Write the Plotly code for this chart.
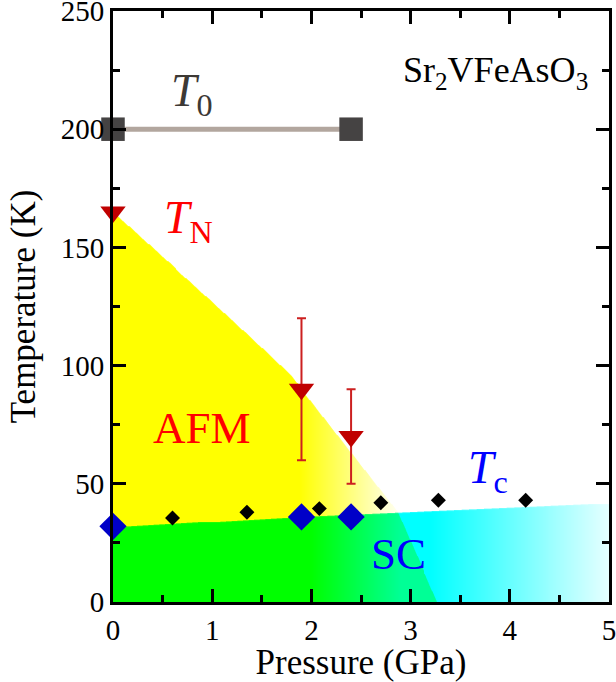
import numpy as np
import plotly.graph_objects as go

# ---------------- data ----------------
# T0 (structural / other transition)
t0_p = [0.0, 2.4]
t0_t = [200, 200]

# TN (antiferromagnetic ordering) with error bars
tn_p = [0.0, 1.9, 2.4]
tn_t = [165, 90, 70]
tn_err = [0, 30, 20]

# Tc (superconducting, large blue diamonds)
tc_p = [0.0, 1.9, 2.4]
tc_t = [32, 36, 36]

# Tc onset (small black diamonds)
tco_p = [0.6, 1.35, 2.08, 2.7, 3.28, 4.16]
tco_t = [35.5, 38, 39.5, 42, 43, 43]

# phase boundaries used for shaded regions
afm_bound_p = [0.0, 1.0, 1.5, 1.8, 2.87, 3.27]
afm_bound_t = [165, 127, 107.5, 95.5, 38.0, 0.0]
sc_bound_p = [0.0, 1.9, 5.0]
sc_bound_t = [31.5, 36.0, 41.5]

x_ticks = [0, 1, 2, 3, 4, 5]
y_ticks = [0, 50, 100, 150, 200, 250]

FONT = "Liberation Serif, Times New Roman, Times, serif"

# ---------------- shaded phase regions (image) ----------------
nx, ny = 500, 425
dx, dy = 5.0 / nx, 170.0 / ny
ss = 3
px = (np.arange(nx * ss) + 0.5) * dx / ss
ty = (np.arange(ny * ss) + 0.5) * dy / ss
P, T = np.meshgrid(px, ty)

afm_top = np.where(P <= afm_bound_p[-1], np.interp(P, afm_bound_p, afm_bound_t), -1)
sc_top = np.interp(P, sc_bound_p, sc_bound_t)
in_afm = T < afm_top
in_sc = T < sc_top

a = np.clip(1 - (P - 1.88) / 1.05, 0, 1)      # yellow fade
b = np.clip(1 - (P - 3.2) / 2.0, 0, 1)        # cyan fade
g = np.clip((P - 2.0) / 0.9, 0, 1) * 150      # green -> blue-green

R = np.full(P.shape, 255.0)
G = np.full(P.shape, 255.0)
B = np.full(P.shape, 255.0)
m = in_afm & ~in_sc
B[m] = 255 * (1 - a[m])
m = in_afm & in_sc
R[m] = 0
B[m] = g[m]
m = ~in_afm & in_sc
R[m] = 255 * (1 - b[m])

img = np.stack([R, G, B], axis=-1)
img = img.reshape(ny, ss, nx, ss, 3).mean(axis=(1, 3))
img = np.clip(np.round(img), 0, 255).astype(int)

fig = go.Figure()
fig.add_trace(go.Image(z=img.tolist(), x0=dx / 2, dx=dx, y0=dy / 2, dy=dy,
                       colormodel="rgb", hoverinfo="skip", zsmooth="fast"))

# T0 line + squares
fig.add_trace(go.Scatter(x=t0_p, y=t0_t, mode="lines+markers", cliponaxis=False,
                         line=dict(color="#b2a69e", width=5),
                         marker=dict(symbol="square", size=23.5, color="#454343",
                                     line=dict(width=0)),
                         showlegend=False))

# TN triangles with error bars
fig.add_trace(go.Scatter(x=tn_p, y=tn_t, mode="markers", cliponaxis=False,
                         error_y=dict(type="data", array=tn_err, symmetric=True,
                                      color="#cc2020", thickness=2, width=4.5),
                         marker=dict(symbol="triangle-down", size=22, color="#c00000",
                                     line=dict(width=0)),
                         showlegend=False))

# Tc onset small black diamonds
fig.add_trace(go.Scatter(x=tco_p, y=tco_t, mode="markers", cliponaxis=False,
                         marker=dict(symbol="diamond", size=11.5, color="black",
                                     line=dict(width=0)),
                         showlegend=False))

# Tc big blue diamonds
fig.add_trace(go.Scatter(x=tc_p, y=tc_t, mode="markers", cliponaxis=False,
                         marker=dict(symbol="diamond", size=21, color="#0000c8",
                                     line=dict(width=0)),
                         showlegend=False))

# ---------------- labels ----------------
def ann(text, x, y, size, color):
    fig.add_annotation(text=text, x=x, y=y, xref="x", yref="y", showarrow=False,
                       xanchor="center", yanchor="middle",
                       font=dict(family=FONT, size=size, color=color))

ann("<i>T</i><sub>0</sub>", 0.80, 215, 46, "#3d3935")
ann("<i>T</i><sub>N</sub>", 0.76, 161, 46, "#ff0000")
ann("AFM", 0.90, 73.5, 45, "#ff0000")
ann("SC", 2.88, 20.5, 45, "#0000ff")
ann("<i>T</i><sub>c</sub>", 3.78, 55.5, 46, "#0000ff")
ann("Sr<sub>2</sub>VFeAsO<sub>3</sub>", 3.86, 224, 36, "black")

axis_common = dict(showline=True, linewidth=3, linecolor="black", mirror="allticks",
                   ticks="inside", tickwidth=2.5, tickcolor="black",
                   showgrid=False, zeroline=False, automargin=False,
                   ticklabeloverflow="allow",
                   tickfont=dict(family=FONT, size=29, color="black"))

fig.update_xaxes(range=[0, 5], tickvals=x_ticks, ticklen=13,
                 minor=dict(ticks="inside", dtick=0.5, tick0=0, ticklen=7,
                            tickwidth=2.5, tickcolor="black", showgrid=False),
                 title=dict(text="Pressure (GPa)", font=dict(family=FONT, size=35, color="black"),
                            standoff=4),
                 **axis_common)
fig.update_yaxes(range=[0, 250], tickvals=y_ticks, ticklen=13, scaleanchor=False,
                 autorange=False,
                 minor=dict(ticks="inside", dtick=25, tick0=0, ticklen=7,
                            tickwidth=2.5, tickcolor="black", showgrid=False),
                 title=dict(text="Temperature (K)", font=dict(family=FONT, size=35, color="black"),
                            standoff=15),
                 **axis_common)

fig.update_layout(width=616, height=682,
                  font=dict(family=FONT, color="black"),
                  margin=dict(l=112.7, r=7, t=10.8, b=80.3),
                  paper_bgcolor="white", plot_bgcolor="white",
                  showlegend=False)

fig.write_html("out.html")
